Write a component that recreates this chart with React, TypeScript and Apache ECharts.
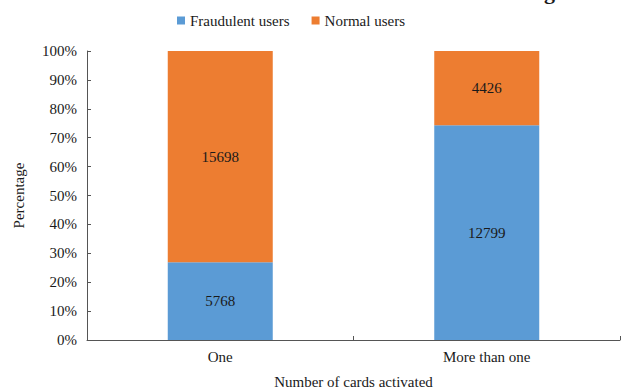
import React, { useEffect, useRef } from "react";
import * as echarts from "echarts";

const categories = ["One", "More than one"];
const fraudulentCounts = [5768, 12799];
const normalCounts = [15698, 4426];
const seriesNames = ["Fraudulent users", "Normal users"];

const FONT = "'Liberation Serif', 'Times New Roman', serif";

export default function App() {
  const ref = useRef<HTMLDivElement>(null);

  useEffect(() => {
    if (!ref.current) return;
    const chart = echarts.init(ref.current, undefined, { renderer: "svg" });

    const totals = categories.map((_, i) => fraudulentCounts[i] + normalCounts[i]);
    const toPct = (arr: number[]) => arr.map((v, i) => (v / totals[i]) * 100);

    const label = (counts: number[]) => ({
      show: true,
      position: "inside" as const,
      fontFamily: FONT,
      fontSize: 15,
      color: "#1a1a1a",
      formatter: (p: any) => String(counts[p.dataIndex]),
    });

    chart.setOption({
      animation: false,
      textStyle: { fontFamily: FONT },
      legend: {
        top: 8,
        left: 172,
        itemWidth: 8,
        itemHeight: 8,
        itemGap: 22,
        icon: "rect",
        textStyle: { fontFamily: FONT, fontSize: 15, color: "#1a1a1a" },
        data: seriesNames,
      },
      grid: {
        left: 87,
        right: 2,
        top: 51,
        bottom: 51,
        containLabel: false,
        outerBoundsMode: "none",
      },
      xAxis: {
        type: "category",
        data: categories,
        name: "Number of cards activated",
        nameLocation: "middle",
        nameGap: 34,
        nameTextStyle: { fontFamily: FONT, fontSize: 15, color: "#1a1a1a" },
        axisLine: { lineStyle: { color: "#555", width: 1 } },
        axisTick: { show: true, inside: true, length: 4, lineStyle: { color: "#555" } },
        axisLabel: { fontFamily: FONT, fontSize: 15, color: "#1a1a1a", margin: 9 },
      },
      yAxis: {
        type: "value",
        min: 0,
        max: 100,
        interval: 10,
        name: "Percentage",
        nameLocation: "middle",
        nameGap: 61,
        nameTextStyle: { fontFamily: FONT, fontSize: 15, color: "#1a1a1a" },
        axisLine: { show: true, lineStyle: { color: "#555", width: 1 } },
        axisTick: { show: true, inside: true, length: 4, lineStyle: { color: "#555" } },
        axisLabel: { fontFamily: FONT, fontSize: 15, color: "#1a1a1a", margin: 10, formatter: "{value}%" },
        splitLine: { show: false },
      },
      series: [
        {
          name: seriesNames[0],
          type: "bar",
          stack: "total",
          barWidth: 105,
          itemStyle: { color: "#5B9BD5" },
          label: label(fraudulentCounts),
          data: toPct(fraudulentCounts),
        },
        {
          name: seriesNames[1],
          type: "bar",
          stack: "total",
          barWidth: 105,
          itemStyle: { color: "#ED7D31" },
          label: label(normalCounts),
          data: toPct(normalCounts),
        },
      ],
      graphic: [
        {
          type: "text",
          left: 544,
          top: -20,
          style: { text: "g", fontFamily: FONT, fontSize: 22, fontWeight: "bold", fill: "#1a1a1a" },
        },
      ],
    });

    return () => chart.dispose();
  }, []);

  return (
    <div
      ref={ref}
      style={{ position: "fixed", left: 0, top: 0, width: 622, height: 391, background: "#fff" }}
    />
  );
}
